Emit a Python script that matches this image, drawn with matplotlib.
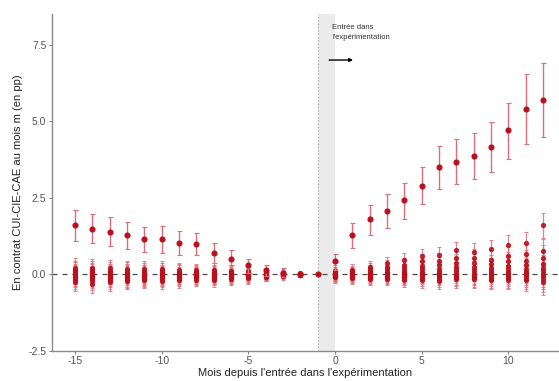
import numpy as np
import matplotlib.pyplot as plt

plt.rcParams['font.family'] = ['Liberation Sans', 'DejaVu Sans']

# Months relative to entry
months = list(range(-15, 13))

# Main estimate (top series) and its confidence interval
main_est = [1.60, 1.49, 1.38, 1.28, 1.14, 1.15, 1.01, 0.99, 0.71, 0.51, 0.29, 0.13, 0.06, 0.02,
            0.00, 0.42, 1.27, 1.80, 2.07, 2.42, 2.89, 3.49, 3.67, 3.88, 4.15, 4.71, 5.39, 5.71]
main_lo = [1.09, 1.01, 0.92, 0.82, 0.73, 0.71, 0.62, 0.62, 0.38, 0.29, 0.05, -0.05, -0.08, -0.05,
           0.00, 0.15, 0.86, 1.27, 1.51, 1.82, 2.30, 2.79, 2.96, 3.10, 3.34, 3.78, 4.25, 4.50]
main_hi = [2.09, 1.98, 1.87, 1.71, 1.55, 1.57, 1.40, 1.36, 1.02, 0.81, 0.51, 0.30, 0.20, 0.08,
           0.00, 0.68, 1.68, 2.28, 2.63, 2.98, 3.50, 4.18, 4.41, 4.63, 4.96, 5.60, 6.54, 6.90]

# Other estimates around zero, one list per month, plus a CI half-width per month
other_est = [
    [0.22, 0.15, 0.10, 0.05, 0.00, -0.03, -0.08, -0.12, -0.18, -0.25],
    [0.20, 0.14, 0.08, 0.03, -0.02, -0.06, -0.10, -0.15, -0.22, -0.30],
    [0.20, 0.12, 0.07, 0.02, -0.02, -0.05, -0.09, -0.14, -0.20, -0.26],
    [0.18, 0.12, 0.06, 0.02, -0.01, -0.05, -0.09, -0.13, -0.18, -0.22],
    [0.17, 0.10, 0.05, 0.02, -0.01, -0.04, -0.08, -0.12, -0.16, -0.20],
    [0.16, 0.10, 0.05, 0.01, -0.02, -0.05, -0.08, -0.12, -0.16, -0.22],
    [0.14, 0.09, 0.05, 0.01, -0.02, -0.05, -0.08, -0.11, -0.15, -0.20],
    [0.13, 0.08, 0.04, 0.01, -0.02, -0.04, -0.07, -0.10, -0.13, -0.17],
    [0.14, 0.08, 0.04, 0.01, -0.02, -0.05, -0.08, -0.11, -0.14, -0.18],
    [0.12, 0.07, 0.04, 0.01, -0.01, -0.04, -0.06, -0.09, -0.12, -0.15],
    [0.10, 0.06, 0.03, 0.01, -0.01, -0.03, -0.05, -0.07, -0.10, -0.13],
    [0.08, 0.05, 0.03, 0.01, -0.01, -0.02, -0.04, -0.06, -0.08, -0.10],
    [0.06, 0.04, 0.02, 0.01, 0.00, -0.01, -0.02, -0.03, -0.05, -0.07],
    [0.03, 0.02, 0.01, 0.00, 0.00, -0.01, -0.01, -0.02, -0.02, -0.03],
    [],
    [0.12, 0.08, 0.05, 0.02, 0.00, -0.02, -0.04, -0.06, -0.08, -0.10],
    [0.15, 0.10, 0.06, 0.03, 0.00, -0.02, -0.05, -0.08, -0.10, -0.13],
    [0.25, 0.17, 0.10, 0.05, 0.02, -0.01, -0.04, -0.08, -0.11, -0.14],
    [0.37, 0.25, 0.16, 0.09, 0.04, 0.00, -0.04, -0.08, -0.12, -0.15],
    [0.46, 0.32, 0.20, 0.12, 0.05, 0.00, -0.04, -0.08, -0.12, -0.17],
    [0.59, 0.42, 0.28, 0.16, 0.08, 0.02, -0.03, -0.08, -0.14, -0.20],
    [0.62, 0.45, 0.30, 0.18, 0.09, 0.02, -0.04, -0.09, -0.15, -0.21],
    [0.78, 0.55, 0.38, 0.24, 0.13, 0.05, -0.02, -0.07, -0.12, -0.16],
    [0.73, 0.55, 0.38, 0.25, 0.14, 0.05, -0.02, -0.08, -0.12, -0.15],
    [0.82, 0.48, 0.33, 0.22, 0.12, 0.05, -0.02, -0.08, -0.14, -0.19],
    [0.97, 0.60, 0.42, 0.28, 0.16, 0.07, 0.00, -0.06, -0.12, -0.17],
    [1.02, 0.65, 0.45, 0.30, 0.18, 0.08, 0.00, -0.07, -0.14, -0.20],
    [1.60, 0.75, 0.55, 0.35, 0.20, 0.10, 0.02, -0.06, -0.14, -0.25],
]
other_hw = [0.30, 0.30, 0.28, 0.27, 0.26, 0.26, 0.24, 0.22, 0.22, 0.20, 0.17, 0.13, 0.10, 0.06,
            0.00, 0.17, 0.18, 0.20, 0.21, 0.23, 0.25, 0.26, 0.27, 0.28, 0.30, 0.32, 0.35, 0.42]

POINT = '#b8101d'
BAR = '#e06e7a'

fig = plt.figure(figsize=(5.59, 3.81), dpi=100)
ax = fig.add_axes([0.093, 0.079, 0.907, 0.884])

# entry band and reference lines
ax.axvspan(-1, 0, color='#ebebeb', lw=0, zorder=0)
ax.axvline(-1, color='#9a9a9a', lw=0.8, ls=(0, (1, 2)), zorder=1)
ax.axhline(0, color='#4a4a4a', lw=0.9, ls=(0, (4, 4)), zorder=1)

# other estimates
for m, ests, hw in zip(months, other_est, other_hw):
    if not ests:
        continue
    xs = [m] * len(ests)
    ax.errorbar(xs, ests, yerr=hw, fmt='o', ms=2.8, color=POINT, mec=POINT,
                ecolor=BAR, elinewidth=0.9, capsize=1.6, capthick=0.7, alpha=0.85, zorder=2)

# main series
yerr = [np.array(main_est) - np.array(main_lo), np.array(main_hi) - np.array(main_est)]
ax.errorbar(months, main_est, yerr=yerr, fmt='o', ms=3.4, color=POINT, mec=POINT,
            ecolor=BAR, elinewidth=1.0, capsize=1.8, capthick=0.8, zorder=3)

# annotation
ax.text(-0.15, 7.9, "Entrée dans\nl'expérimentation", fontsize=5.5, color='#333333',
        ha='left', va='center', linespacing=1.6)
ax.annotate('', xy=(1.2, 7.0), xytext=(-0.5, 7.0),
            arrowprops=dict(arrowstyle='-|>', color='black', lw=1.0, mutation_scale=5))

ax.set_xlim(-16.33, 12.92)
ax.set_ylim(-2.5, 8.5)
ax.set_xticks([-15, -10, -5, 0, 5, 10])
ax.set_xticklabels(['-15', '-10', '-5', '0', '5', '10'])
ax.set_yticks([-2.5, 0, 2.5, 5, 7.5])
ax.set_yticklabels(['-2.5', '0.0', '2.5', '5.0', '7.5'])
ax.tick_params(labelsize=7.5, colors='#666666', length=2, width=0.6, pad=2)
for t in ax.get_xticklabels() + ax.get_yticklabels():
    t.set_color('#555555')

for side in ['top', 'right']:
    ax.spines[side].set_visible(False)
for side in ['left', 'bottom']:
    ax.spines[side].set_color('#8a8a8a')
    ax.spines[side].set_linewidth(1.0)

ax.set_xlabel("Mois depuis l'entrée dans l'expérimentation", fontsize=8, color='#222222', labelpad=1)
ax.set_ylabel('En contrat CUI-CIE-CAE au mois m (en pp)', fontsize=8, color='#222222', labelpad=4)

fig.savefig('out.png', dpi=100)
